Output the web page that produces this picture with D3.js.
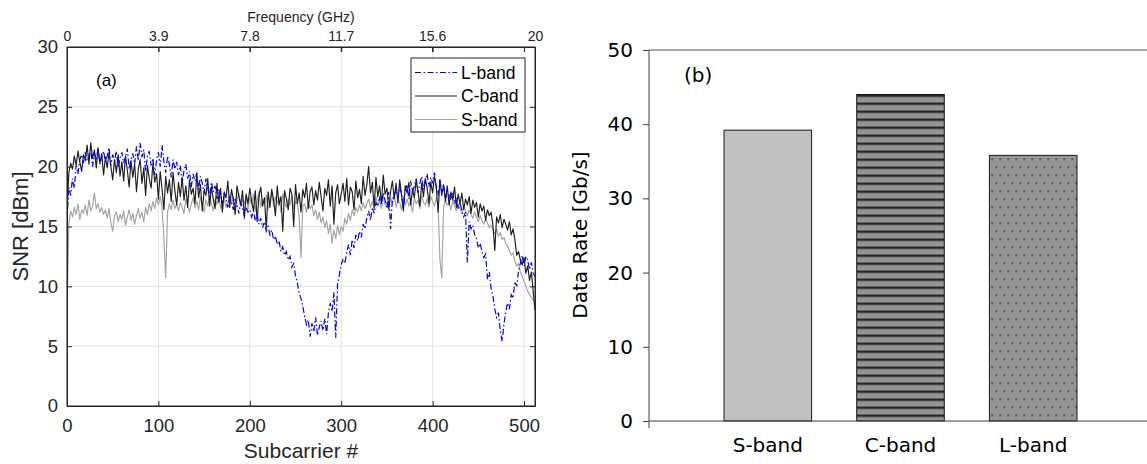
<!DOCTYPE html>
<html><head><meta charset="utf-8">
<script src="https://cdn.jsdelivr.net/npm/d3@7"></script>
<style>
html,body{margin:0;padding:0;background:#fff;}
svg{display:block;}
</style></head>
<body>
<svg id="chart" width="1147" height="464"></svg>
<script>
// ---------- DATA ----------
// Panel (a): SNR per subcarrier (every 2nd subcarrier, 0..512)
const subcarriers = d3.range(0, 513, 2);
const cBand = [
16.2,19.5,20.3,19.8,20.9,20.1,21.3,20.4,19.6,21.0,
20.5,21.8,20.2,22.0,20.7,21.4,19.9,21.6,20.3,21.1,
19.3,20.8,19.9,21.2,20.0,18.9,20.6,19.5,21.0,19.2,
20.4,18.8,20.9,19.7,18.3,20.5,19.1,20.2,17.9,19.8,
20.6,18.6,19.9,17.6,20.1,19.0,18.2,20.3,18.7,19.4,
17.3,19.6,18.1,16.4,19.2,17.8,18.9,17.1,19.5,18.0,
16.8,18.7,17.5,19.1,17.2,18.4,16.6,18.9,17.7,18.2,
16.9,19.4,17.4,18.5,16.3,18.0,17.6,19.0,16.7,18.3,
17.3,16.5,18.6,17.0,18.2,16.2,17.9,17.4,18.8,16.6,
18.1,17.2,16.0,18.4,17.5,16.8,18.0,15.7,17.7,16.9,
18.2,17.1,16.3,18.0,15.4,17.6,18.3,16.7,17.4,14.8,
17.9,16.6,18.1,17.2,15.9,18.4,16.8,17.5,14.6,18.0,
17.3,16.4,18.2,17.7,15.0,18.5,16.9,17.8,16.2,18.1,
17.4,18.6,16.5,17.9,18.3,16.8,18.0,17.2,18.7,17.5,
16.3,18.2,17.6,18.9,16.7,18.4,15.2,17.8,18.5,16.9,
17.7,18.6,17.1,19.0,16.8,18.3,17.9,16.4,18.8,17.4,
18.1,16.9,19.2,17.6,18.5,20.0,17.8,18.7,16.6,19.1,
17.5,18.4,16.9,19.3,17.7,18.2,16.5,17.9,18.8,17.3,
18.6,17.0,18.9,17.6,16.3,18.4,17.8,18.7,16.8,18.1,
17.4,18.9,17.9,16.7,18.6,17.5,19.0,18.2,16.9,18.7,
17.8,19.2,18.3,16.2,18.9,17.6,18.5,17.1,18.4,16.8,
17.9,17.2,18.3,16.6,17.7,16.9,17.8,16.4,17.3,16.8,
17.5,16.1,17.2,16.6,17.0,15.8,16.9,16.3,16.7,15.5,
16.4,15.9,16.2,15.1,13.0,15.8,15.3,16.0,14.9,15.6,
15.2,14.7,15.4,14.3,14.8,13.9,12.6,12.9,12.2,11.8,
12.4,11.1,11.7,10.5,11.2,9.6,8.0];
const sBand = [
8.0,15.2,16.3,15.8,16.6,16.0,16.9,15.6,16.4,16.1,
16.8,15.9,17.2,16.3,16.7,17.8,16.5,16.9,16.2,16.6,
16.0,16.4,15.7,16.5,15.3,14.6,15.9,16.2,15.4,16.0,
15.6,16.3,15.1,15.8,16.4,15.5,16.1,15.2,15.9,16.5,
15.7,16.2,15.4,16.6,16.0,16.9,16.3,17.1,16.5,17.4,
16.8,17.5,16.6,14.0,10.7,16.2,16.9,16.4,17.2,16.5,
16.9,16.3,17.0,16.6,16.1,17.3,16.7,16.2,16.9,17.4,
16.6,17.1,16.4,17.5,16.8,16.2,17.2,16.7,17.6,16.9,
16.3,17.3,16.8,17.7,16.5,17.1,17.4,16.6,17.0,17.6,
16.9,17.5,16.4,17.2,17.8,16.7,17.3,16.9,17.6,16.5,
17.4,16.8,17.7,16.3,17.1,17.9,16.6,17.3,16.9,17.6,
16.4,17.2,17.8,16.7,17.5,16.9,17.4,16.2,17.7,17.0,
16.6,17.3,16.8,17.6,16.5,17.1,16.9,15.8,12.4,16.7,
16.9,16.2,17.0,16.5,16.8,15.9,16.4,15.6,16.2,15.3,
15.8,14.9,15.5,14.4,15.2,13.6,14.7,14.0,15.1,14.3,
15.0,14.6,15.7,15.2,16.1,15.5,16.4,15.9,16.6,16.2,
16.8,16.3,17.0,16.5,16.9,17.3,16.6,17.1,16.4,17.5,
16.7,17.2,16.5,17.6,16.8,17.0,16.3,17.4,16.9,17.7,
16.6,17.2,17.0,16.4,17.5,16.8,17.3,16.7,17.1,16.2,
17.4,16.9,17.2,16.5,17.6,17.0,16.8,17.3,16.6,17.5,
17.1,16.7,17.4,16.9,12.2,10.7,16.6,17.2,16.8,17.0,
16.4,17.1,16.7,16.3,16.9,16.5,16.1,16.7,16.3,15.9,
16.4,16.0,15.7,16.2,15.8,15.4,15.9,15.5,15.2,15.6,
15.3,14.9,15.1,14.7,14.4,14.8,14.2,14.5,13.9,14.1,
13.6,13.3,13.0,12.6,12.8,12.1,11.7,11.9,11.2,10.8,
10.4,10.0,9.6,9.3,9.1,8.9,8.6];
const lBand = [
15.5,18.3,17.6,19.0,18.2,20.1,19.4,20.6,21.0,20.3,
21.2,20.5,20.9,21.4,20.0,21.1,20.6,21.5,20.2,20.8,
21.3,20.4,20.9,21.6,20.1,21.0,20.5,21.3,19.9,20.7,
21.2,20.3,20.8,21.5,19.8,20.6,21.1,20.2,21.7,20.5,
22.0,20.8,21.4,19.6,20.9,21.3,20.1,20.7,19.3,20.6,
21.2,20.0,21.8,20.4,19.5,20.9,20.2,19.1,20.6,19.8,
20.4,19.3,20.1,18.6,19.7,20.2,19.0,19.6,18.3,19.4,
18.8,19.5,18.1,19.2,18.6,17.8,19.0,18.2,17.5,18.7,
17.9,18.4,17.3,18.1,17.6,16.9,17.8,17.2,16.6,17.5,
17.0,16.4,17.3,16.8,16.1,17.0,16.5,15.9,16.6,16.2,
16.4,15.8,16.3,15.5,16.0,15.2,15.7,14.9,15.4,14.6,
15.0,14.3,14.7,13.9,14.2,13.5,13.8,12.9,13.3,12.6,
12.9,12.2,12.5,11.6,11.9,10.9,10.3,9.4,9.0,8.3,
7.5,6.8,7.2,5.8,6.9,6.2,7.4,5.9,6.6,7.1,
6.3,7.3,6.0,7.8,8.6,7.9,9.5,5.7,10.2,11.0,
11.8,12.3,11.9,12.8,13.5,12.6,13.9,13.2,14.3,13.8,
14.6,14.1,15.2,14.8,15.7,16.3,15.5,16.6,16.1,17.0,
16.7,17.4,16.9,17.8,17.2,16.5,17.9,14.8,17.3,17.6,
18.1,17.4,18.3,17.7,16.6,18.0,18.5,17.3,18.8,17.9,
18.4,19.0,17.8,18.6,19.2,18.1,18.9,19.4,18.3,19.1,
18.6,19.5,18.2,17.6,18.9,17.9,18.5,17.3,18.0,17.6,
17.2,17.8,16.9,17.4,16.5,17.0,16.3,15.8,16.2,12.0,
15.4,14.8,15.1,14.3,14.0,13.2,13.6,12.9,12.4,12.7,
10.6,11.2,9.8,9.2,8.1,7.4,7.8,6.3,5.4,6.8,
7.9,8.6,8.1,9.3,9.0,10.4,10.0,11.3,11.9,12.6,
11.7,12.5,12.2,11.4,12.0,11.1,10.8];
const snrTicks = [0,5,10,15,20,25,30];
const subTicks = [0,100,200,300,400,500];
const freqTicks = [0,3.9,7.8,11.7,15.6,20];
const legendNames = ["L-band","C-band","S-band"];

// Panel (b): data rate per band
const bands = ["S-band","C-band","L-band"];
const dataRates = [39.2, 44.0, 35.8];
const rateTicks = [0,10,20,30,40,50];

// ---------- DRAW ----------
const svg = d3.select("#chart");
const AX = "#262626";
const FONT_A = "'Liberation Sans', Arial, Helvetica, sans-serif";
const FONT_B = "'DejaVu Sans', Verdana, sans-serif";

// ===== Panel (a) =====
const L = 67, R = 535, T = 47, B = 406;
const x = d3.scaleLinear().domain([0,512]).range([L,R]);
const y = d3.scaleLinear().domain([0,30]).range([B,T]);
const xf = d3.scaleLinear().domain([0,20]).range([x(0), x(512)]);

const ga = svg.append("g");
// grid
ga.append("g").selectAll("line").data(subTicks).join("line")
  .attr("x1", d=>x(d)).attr("x2", d=>x(d)).attr("y1", T).attr("y2", B)
  .attr("stroke", "#e3e3e3").attr("stroke-width", 1);
ga.append("g").selectAll("line").data(snrTicks).join("line")
  .attr("x1", L).attr("x2", R).attr("y1", d=>y(d)).attr("y2", d=>y(d))
  .attr("stroke", "#e3e3e3").attr("stroke-width", 1);

// clip
svg.append("defs").append("clipPath").attr("id","clipA")
  .append("rect").attr("x", L).attr("y", T).attr("width", R-L).attr("height", B-T);

const line = d3.line().x((d,i)=>x(subcarriers[i])).y(d=>y(d));
const lines = ga.append("g").attr("clip-path","url(#clipA)");
lines.append("path").datum(sBand).attr("d", line)
  .attr("fill","none").attr("stroke","#a3a3a3").attr("stroke-width",1.15).attr("stroke-linejoin","round");
lines.append("path").datum(cBand).attr("d", line)
  .attr("fill","none").attr("stroke","#1f1f1f").attr("stroke-width",1.15).attr("stroke-linejoin","round");
lines.append("path").datum(lBand).attr("d", line)
  .attr("fill","none").attr("stroke","#0000ff").attr("stroke-width",1.2)
  .attr("stroke-dasharray","6,2.5,1.5,2.5");

// axes
function styleAxis(g, size){
  g.selectAll("path.domain").attr("stroke", AX);
  g.selectAll(".tick line").attr("stroke", AX);
  g.selectAll(".tick text").attr("fill", AX).attr("font-family", FONT_A).attr("font-size", size);
}
const xBot = ga.append("g").attr("transform",`translate(0,${B})`)
  .call(d3.axisBottom(x).tickValues(subTicks).tickSizeInner(-5).tickSizeOuter(0).tickPadding(13).tickFormat(d3.format("d")));
styleAxis(xBot, 18.5);
const xTopMirror = ga.append("g").attr("transform",`translate(0,${T})`)
  .call(d3.axisTop(x).tickValues(subTicks).tickSizeInner(-5).tickSizeOuter(0).tickFormat(""));
styleAxis(xTopMirror, 14);
const xTop = ga.append("g").attr("transform",`translate(0,${T})`)
  .call(d3.axisTop(xf).tickValues(freqTicks).tickSizeInner(-5).tickSizeOuter(0).tickPadding(6).tickFormat(d=>String(d)));
styleAxis(xTop, 14);
const yLeft = ga.append("g").attr("transform",`translate(${L},0)`)
  .call(d3.axisLeft(y).tickValues(snrTicks).tickSizeInner(-5).tickSizeOuter(0).tickPadding(9));
styleAxis(yLeft, 18.5);
const yRight = ga.append("g").attr("transform",`translate(${R},0)`)
  .call(d3.axisRight(y).tickValues(snrTicks).tickSizeInner(-5).tickSizeOuter(0).tickFormat(""));
styleAxis(yRight, 14);
// box
ga.append("rect").attr("x",L).attr("y",T).attr("width",R-L).attr("height",B-T)
  .attr("fill","none").attr("stroke",AX).attr("stroke-width",1);

// labels
ga.append("text").attr("x",(L+R)/2).attr("y",458).attr("text-anchor","middle")
  .attr("font-family",FONT_A).attr("font-size",21).attr("fill",AX).text("Subcarrier #");
ga.append("text").attr("x",(L+R)/2).attr("y",22).attr("text-anchor","middle")
  .attr("font-family",FONT_A).attr("font-size",14).attr("fill",AX).text("Frequency (GHz)");
ga.append("text").attr("transform",`translate(28,${(T+B)/2}) rotate(-90)`).attr("text-anchor","middle")
  .attr("font-family",FONT_A).attr("font-size",22).attr("fill",AX).text("SNR [dBm]");
ga.append("text").attr("x",96).attr("y",86)
  .attr("font-family",FONT_A).attr("font-size",17).attr("fill","#000").text("(a)");

// legend
const lg = ga.append("g");
lg.append("rect").attr("x",411).attr("y",58).attr("width",114).attr("height",74)
  .attr("fill","#fff").attr("stroke",AX).attr("stroke-width",1);
const legStyles = [
  {c:"#0000ff", dash:"6,2.5,1.5,2.5"},
  {c:"#1f1f1f", dash:null},
  {c:"#a3a3a3", dash:null}];
legendNames.forEach((n,i)=>{
  const cy = 72.5 + i*23.5;
  lg.append("line").attr("x1",415).attr("x2",457).attr("y1",cy).attr("y2",cy)
    .attr("stroke",legStyles[i].c).attr("stroke-width",1.1)
    .attr("stroke-dasharray",legStyles[i].dash);
  lg.append("text").attr("x",461).attr("y",cy+6.3)
    .attr("font-family",FONT_A).attr("font-size",17.5).attr("fill","#000").text(n);
});

// ===== Panel (b) =====
const L2 = 649, T2 = 50, B2 = 421, R2 = 1147;
const y2 = d3.scaleLinear().domain([0,50]).range([B2,T2]);
const xb = d3.scaleBand().domain(bands).range([724,1077]).paddingInner(0.34).paddingOuter(0);

const defs = svg.select("defs");
const stripe = defs.append("pattern").attr("id","stripes").attr("patternUnits","userSpaceOnUse")
  .attr("width",8).attr("height",8).attr("y", y2(dataRates[1]));
stripe.append("rect").attr("width",8).attr("height",8).attr("fill","#959595");
stripe.append("rect").attr("y",0).attr("width",8).attr("height",2.4).attr("fill","#262626");
const dots = defs.append("pattern").attr("id","dots").attr("patternUnits","userSpaceOnUse")
  .attr("width",8).attr("height",16).attr("x",xb("L-band")).attr("y", y2(dataRates[2]));
dots.append("rect").attr("width",8).attr("height",16).attr("fill","#959595");
dots.append("rect").attr("x",2).attr("y",3).attr("width",1.6).attr("height",1.6).attr("fill","#3a3a3a");
dots.append("rect").attr("x",6).attr("y",11).attr("width",1.6).attr("height",1.6).attr("fill","#3a3a3a");

const gb = svg.append("g");
// top border line
gb.append("line").attr("x1",L2).attr("x2",R2).attr("y1",T2).attr("y2",T2)
  .attr("stroke","#8c8c8c").attr("stroke-width",1.6);

const fills = ["#c0c0c0","url(#stripes)","url(#dots)"];
gb.append("g").selectAll("rect").data(bands).join("rect")
  .attr("x", d=>xb(d)).attr("width", xb.bandwidth())
  .attr("y", (d,i)=>y2(dataRates[i])).attr("height",(d,i)=>B2 - y2(dataRates[i]))
  .attr("fill",(d,i)=>fills[i]).attr("stroke","#1a1a1a").attr("stroke-width",1);

const yAx2 = gb.append("g").attr("transform",`translate(${L2},0)`)
  .call(d3.axisLeft(y2).tickValues(rateTicks).tickSize(6).tickPadding(10).tickSizeOuter(0));
yAx2.select("path.domain").remove();
yAx2.selectAll(".tick line").attr("stroke","#404040");
yAx2.selectAll(".tick text").attr("font-family",FONT_B).attr("font-size",20).attr("fill","#000");
gb.append("line").attr("x1",L2).attr("x2",L2).attr("y1",T2).attr("y2",B2+7)
  .attr("stroke","#404040").attr("stroke-width",1);
gb.append("line").attr("x1",L2).attr("x2",R2).attr("y1",B2).attr("y2",B2)
  .attr("stroke","#404040").attr("stroke-width",1);

const xAx2 = gb.append("g").attr("transform",`translate(0,${B2})`)
  .call(d3.axisBottom(xb).tickSize(0).tickPadding(17));
xAx2.select("path.domain").remove();
xAx2.selectAll(".tick text").attr("font-family",FONT_B).attr("font-size",20).attr("fill","#000");

gb.append("text").attr("transform",`translate(587,${235}) rotate(-90)`).attr("text-anchor","middle")
  .attr("font-family",FONT_B).attr("font-size",20).attr("fill","#000").text("Data Rate [Gb/s]");
gb.append("text").attr("x",684).attr("y",82)
  .attr("font-family",FONT_B).attr("font-size",20).attr("fill","#000").text("(b)");
</script>
</body></html>
